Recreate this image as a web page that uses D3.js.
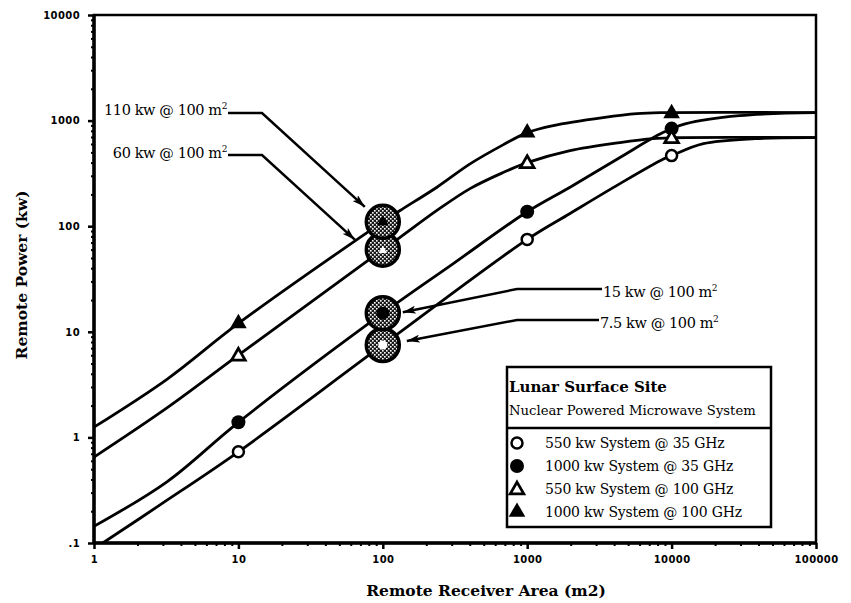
<!DOCTYPE html>
<html>
<head>
<meta charset="utf-8">
<script src="https://cdn.jsdelivr.net/npm/d3@7"></script>
<style>
  body { margin: 0; background: #fff; }
  svg { display: block; }
  .tick-label { font-family: "DejaVu Sans", sans-serif; font-weight: bold; font-size: 10px; letter-spacing: 0.4px; }
  .serif { font-family: "DejaVu Serif", serif; fill: #000; }
</style>
</head>
<body>
<script>
const X_TICKS = [1, 10, 100, 1000, 10000, 100000];
const X_TICK_LABELS = ["1", "10", "100", "1000", "10000", "100000"];
const Y_TICKS = [0.1, 1, 10, 100, 1000, 10000];
const Y_TICK_LABELS = [".1", "1", "10", "100", "1000", "10000"];

const SERIES_NAMES = [
  "550 kw System @ 35 GHz",
  "1000 kw System @ 35 GHz",
  "550 kw System @ 100 GHz",
  "1000 kw System @ 100 GHz"
];
const SERIES_SYMBOLS = ["open-circle", "filled-circle", "open-triangle", "filled-triangle"];

// curve points [area m2, power kw]
const CURVE_550_35 = [[1.15, 0.1], [2.9, 0.232], [10, 0.73], [100, 7.5], [1000, 75], [1980, 132], [4390, 253], [8710, 430], [10000, 466], [16600, 605], [38000, 675], [100000, 690]];
const CURVE_1000_35 = [[1, 0.144], [3.2, 0.38], [10, 1.39], [100, 15], [306, 44], [1000, 137], [1980, 234], [4390, 447], [8710, 770], [12600, 937], [29500, 1115], [100000, 1190]];
const CURVE_550_100 = [[1, 0.65], [3.2, 1.9], [10, 6], [100, 60], [131, 78], [237, 141], [402, 227], [680, 322], [1000, 400], [1980, 520], [4390, 620], [7430, 676], [10000, 688], [100000, 690]];
const CURVE_1000_100 = [[1, 1.25], [3.2, 3.55], [10, 12], [100, 110], [131, 140], [237, 234], [402, 389], [680, 589], [1000, 770], [1514, 897], [3350, 1067], [5750, 1164], [8710, 1190], [100000, 1192]];

const MARK_AREAS = [10, 1000, 10000];
const MARK_550_35 = [0.73, 75, 466];
const MARK_1000_35 = [1.39, 137, 840];
const MARK_550_100 = [6, 400, 688];
const MARK_1000_100 = [12, 770, 1170];

const HIGHLIGHT_AREA = 100;
const HIGHLIGHT_POWER = [7.5, 15, 60, 110];
const HIGHLIGHT_LABELS = ["7.5 kw @ 100 m", "15 kw @ 100 m", "60 kw @ 100 m", "110 kw @ 100 m"];

const LEGEND_TITLE = "Lunar Surface Site";
const LEGEND_SUBTITLE = "Nuclear Powered Microwave System";
const X_TITLE = "Remote Receiver Area (m2)";
const Y_TITLE = "Remote Power (kw)";

const curves = [CURVE_550_35, CURVE_1000_35, CURVE_550_100, CURVE_1000_100];
const marks = [MARK_550_35, MARK_1000_35, MARK_550_100, MARK_1000_100];

const W = 851, H = 603;
const M = { left: 94, right: 816, top: 15, bottom: 543 };

const svg = d3.select("body").append("svg")
  .attr("width", W).attr("height", H)
  .attr("viewBox", `0 0 ${W} ${H}`);

const defs = svg.append("defs");
defs.append("clipPath").attr("id", "plot-clip")
  .append("rect").attr("x", M.left).attr("y", M.top)
  .attr("width", M.right - M.left).attr("height", M.bottom - M.top);

const hatch = defs.append("pattern").attr("id", "hatch")
  .attr("patternUnits", "userSpaceOnUse").attr("width", 4).attr("height", 4);
hatch.append("rect").attr("width", 4).attr("height", 4).attr("fill", "#1a1a1a");
hatch.append("rect").attr("width", 1.6).attr("height", 1.6).attr("fill", "#fff");
hatch.append("rect").attr("x", 2).attr("y", 2).attr("width", 1.6).attr("height", 1.6).attr("fill", "#fff");

defs.append("marker").attr("id", "arrow")
  .attr("markerUnits", "userSpaceOnUse")
  .attr("viewBox", "0 0 13 8").attr("markerWidth", 13).attr("markerHeight", 8)
  .attr("refX", 13).attr("refY", 4).attr("orient", "auto")
  .append("path").attr("d", "M0,0 L13,4 L0,8 L3,4 Z").attr("fill", "#000");

const x = d3.scaleLog().domain([1, 100000]).range([M.left, M.right]);
const y = d3.scaleLog().domain([0.1, 10000]).range([M.bottom, M.top]);

// minor ticks
const minors = (lo, hi) => {
  const out = [];
  for (let d = lo; d < hi; d *= 10) for (let k = 2; k <= 9; k++) out.push(d * k);
  return out;
};

svg.append("g").attr("transform", `translate(${M.left},0)`)
  .call(d3.axisLeft(y).tickValues(minors(0.1, 10000)).tickSize(3).tickFormat(""))
  .call(g => g.select(".domain").remove())
  .call(g => g.selectAll("line").attr("stroke-width", 2));

svg.append("g").attr("transform", `translate(0,${M.bottom})`)
  .call(d3.axisBottom(x).tickValues(minors(1, 100000)).tickSize(3).tickFormat(""))
  .call(g => g.select(".domain").remove())
  .call(g => g.selectAll("line").attr("stroke-width", 2));

svg.append("g").attr("transform", `translate(${M.left},0)`)
  .call(d3.axisLeft(y).tickValues(Y_TICKS).tickSize(6).tickPadding(8)
    .tickFormat((d, i) => Y_TICK_LABELS[i]))
  .call(g => g.select(".domain").remove())
  .call(g => g.selectAll("line").attr("stroke-width", 2.5))
  .call(g => g.selectAll("text").attr("class", "tick-label").attr("fill", "#000"));

svg.append("g").attr("transform", `translate(0,${M.bottom})`)
  .call(d3.axisBottom(x).tickValues(X_TICKS).tickSize(6).tickPadding(7)
    .tickFormat((d, i) => X_TICK_LABELS[i]))
  .call(g => g.select(".domain").remove())
  .call(g => g.selectAll("line").attr("stroke-width", 2.5))
  .call(g => g.selectAll("text").attr("class", "tick-label").attr("fill", "#000"));

// frame
svg.append("rect")
  .attr("x", M.left).attr("y", M.top)
  .attr("width", M.right - M.left).attr("height", M.bottom - M.top)
  .attr("fill", "none").attr("stroke", "#000").attr("stroke-width", 2.5);
svg.append("line").attr("x1", M.left).attr("x2", M.left).attr("y1", M.top).attr("y2", M.bottom)
  .attr("stroke", "#000").attr("stroke-width", 3.5);
svg.append("line").attr("x1", M.left).attr("x2", M.right).attr("y1", M.bottom).attr("y2", M.bottom)
  .attr("stroke", "#000").attr("stroke-width", 3.5);

// curves
const line = d3.line()
  .x(d => x(d[0])).y(d => y(d[1]))
  .curve(d3.curveCatmullRom.alpha(0.5));

svg.append("g").attr("clip-path", "url(#plot-clip)")
  .selectAll("path").data(curves).join("path")
  .attr("d", line)
  .attr("fill", "none").attr("stroke", "#000").attr("stroke-width", 2.8)
  .attr("stroke-linejoin", "round");

function drawSymbol(g, type, cx, cy) {
  if (type === "open-circle") {
    g.append("circle").attr("cx", cx).attr("cy", cy).attr("r", 5.5)
      .attr("fill", "#fff").attr("stroke", "#000").attr("stroke-width", 2.5);
  } else if (type === "filled-circle") {
    g.append("circle").attr("cx", cx).attr("cy", cy).attr("r", 7).attr("fill", "#000");
  } else if (type === "open-triangle") {
    g.append("path").attr("transform", `translate(${cx},${cy + 1})`)
      .attr("d", d3.symbol(d3.symbolTriangle, 80)())
      .attr("fill", "#fff").attr("stroke", "#000").attr("stroke-width", 2.8);
  } else {
    g.append("path").attr("transform", `translate(${cx},${cy})`)
      .attr("d", d3.symbol(d3.symbolTriangle, 120)())
      .attr("fill", "#000");
  }
}

const markG = svg.append("g");
marks.forEach((vals, si) => {
  vals.forEach((v, i) => drawSymbol(markG, SERIES_SYMBOLS[si], x(MARK_AREAS[i]), y(v)));
});

// highlighted points at 100 m2
const hiG = svg.append("g");
HIGHLIGHT_POWER.forEach((v, si) => {
  const cx = x(HIGHLIGHT_AREA), cy = y(v);
  hiG.append("circle").attr("cx", cx).attr("cy", cy).attr("r", 16.5)
    .attr("fill", "url(#hatch)").attr("stroke", "#000").attr("stroke-width", 3.5);
  const t = SERIES_SYMBOLS[si];
  if (t === "open-circle") {
    hiG.append("circle").attr("cx", cx).attr("cy", cy).attr("r", 4.5).attr("fill", "#fff");
  } else if (t === "filled-circle") {
    hiG.append("circle").attr("cx", cx).attr("cy", cy).attr("r", 6.5).attr("fill", "#000");
  } else if (t === "open-triangle") {
    hiG.append("path").attr("transform", `translate(${cx},${cy + 1})`)
      .attr("d", d3.symbol(d3.symbolTriangle, 30)()).attr("fill", "#fff");
  } else {
    hiG.append("path").attr("transform", `translate(${cx},${cy})`)
      .attr("d", d3.symbol(d3.symbolTriangle, 60)()).attr("fill", "#000");
  }
});

// annotations: text anchor point, leader level, elbow, arrow tip offset from circle centre
const ANNOT = [
  { anchor: "start", tx: 600, ty: 328, ly: 320, elbow: 517, tip: [24, -4] },
  { anchor: "start", tx: 603, ty: 297, ly: 289, elbow: 517, tip: [20, -1] },
  { anchor: "end", tx: 227, ty: 158, ly: 155, elbow: 262, tip: [-28, -10] },
  { anchor: "end", tx: 227, ty: 115, ly: 113, elbow: 262, tip: [-18, -15] }
];

const annG = svg.append("g");
HIGHLIGHT_LABELS.forEach((lab, i) => {
  const a = ANNOT[i];
  const cx = x(HIGHLIGHT_AREA), cy = y(HIGHLIGHT_POWER[i]);
  const startX = a.anchor === "end" ? a.tx + 1 : a.tx - 1;
  annG.append("path")
    .attr("d", `M${startX},${a.ly} L${a.elbow},${a.ly} L${cx + a.tip[0]},${cy + a.tip[1]}`)
    .attr("fill", "none").attr("stroke", "#000").attr("stroke-width", 2.5)
    .attr("marker-end", "url(#arrow)");
  const t = annG.append("text").attr("class", "serif")
    .attr("x", a.tx).attr("y", a.ty).attr("text-anchor", a.anchor)
    .attr("font-size", 14.5).attr("letter-spacing", -0.4);
  t.append("tspan").text(lab);
  t.append("tspan").attr("dy", -6).attr("font-size", 9).text("2");
});

// legend
const lg = svg.append("g");
const LX0 = 507, LX1 = 771, LY0 = 367, LY1 = 527, LDIV = 428;
lg.append("rect").attr("x", LX0).attr("y", LY0).attr("width", LX1 - LX0).attr("height", LY1 - LY0)
  .attr("fill", "#fff").attr("stroke", "#000").attr("stroke-width", 2.5);
lg.append("line").attr("x1", LX0).attr("x2", LX1).attr("y1", LDIV).attr("y2", LDIV)
  .attr("stroke", "#000").attr("stroke-width", 2.5);
lg.append("text").attr("class", "serif").attr("x", LX0 + 2).attr("y", 392)
  .attr("font-size", 15).attr("font-weight", "bold").text(LEGEND_TITLE);
lg.append("text").attr("class", "serif").attr("x", LX0 + 2).attr("y", 415)
  .attr("font-size", 13.2).text(LEGEND_SUBTITLE);
SERIES_NAMES.forEach((name, i) => {
  const cy = 443 + i * 23;
  drawSymbol(lg, SERIES_SYMBOLS[i], 517, cy);
  lg.append("text").attr("class", "serif").attr("x", 545).attr("y", cy + 5)
    .attr("font-size", 14).attr("letter-spacing", -0.2).text(name);
});

// axis titles
svg.append("text").attr("class", "serif")
  .attr("x", 486).attr("y", 596).attr("text-anchor", "middle")
  .attr("font-size", 15.5).attr("font-weight", "bold").text(X_TITLE);
svg.append("text").attr("class", "serif")
  .attr("transform", "translate(27,275) rotate(-90)").attr("text-anchor", "middle")
  .attr("font-size", 15.5).attr("font-weight", "bold").text(Y_TITLE);
</script>
</body>
</html>
